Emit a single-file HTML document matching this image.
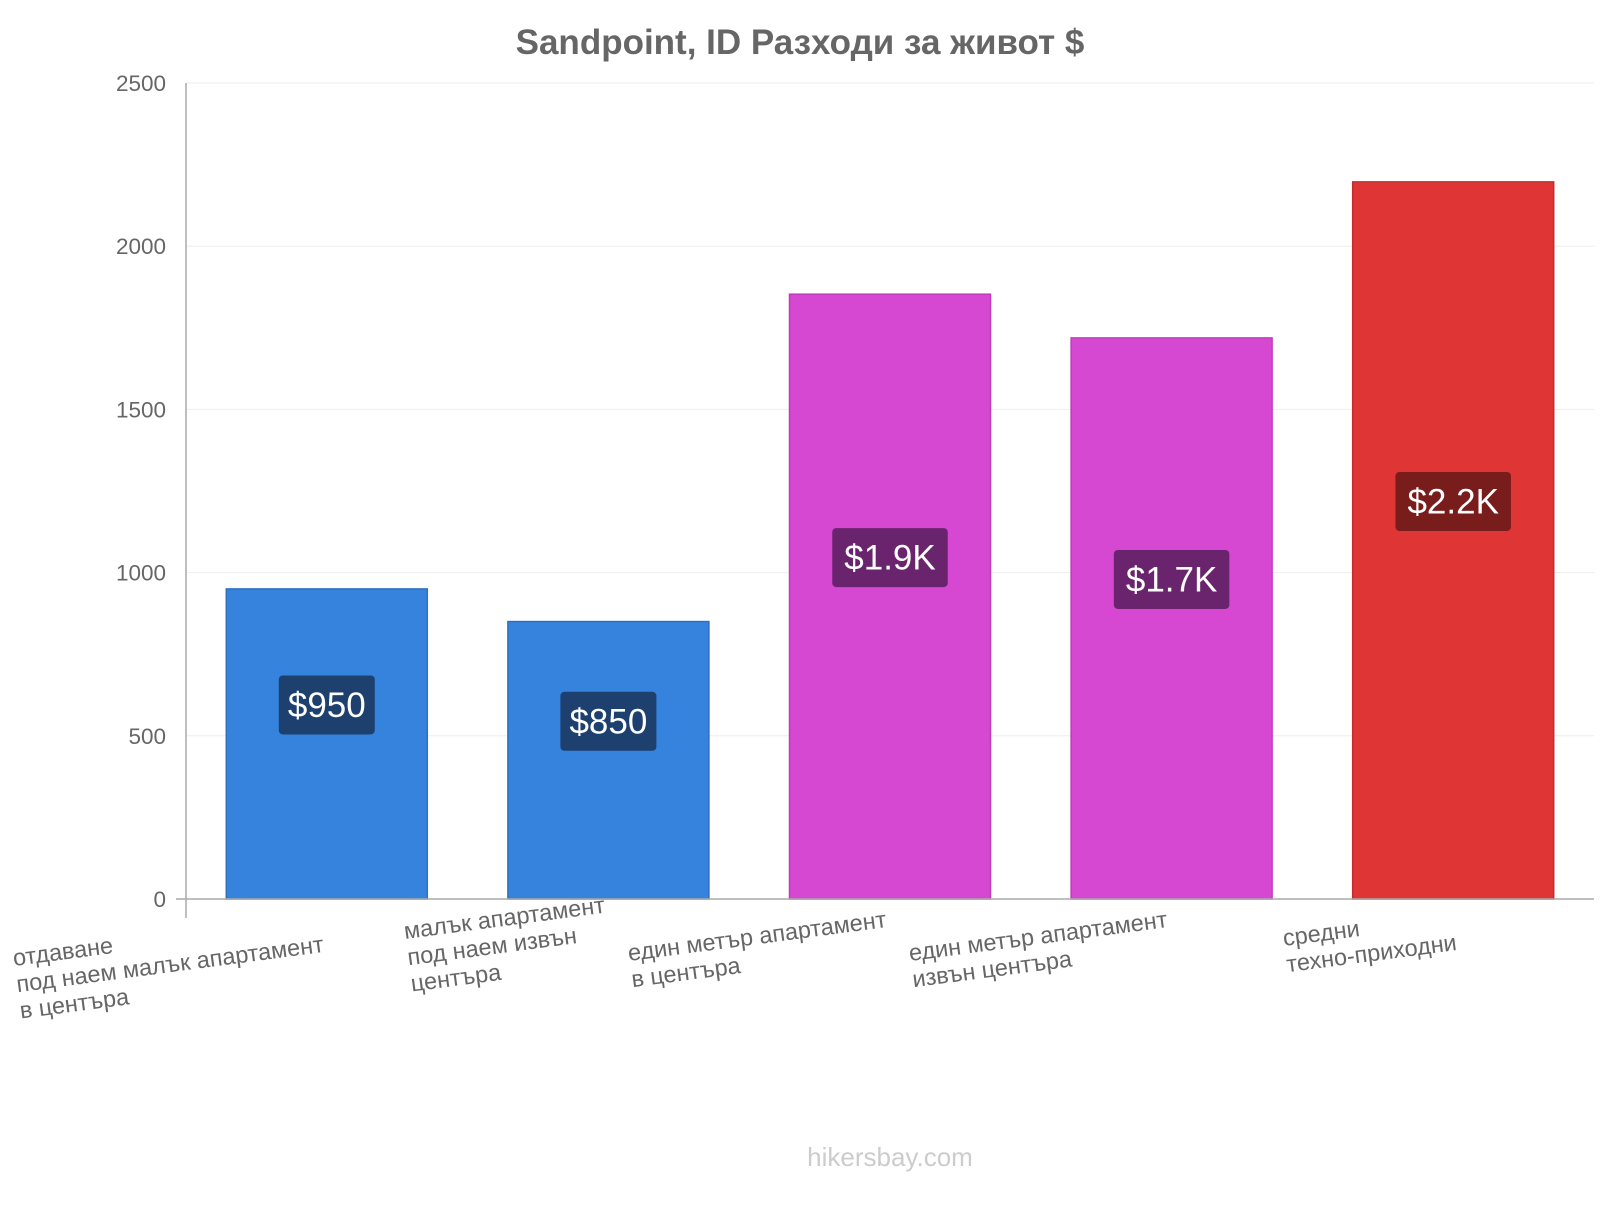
<!DOCTYPE html>
<html><head><meta charset="utf-8"><style>
body{margin:0;background:#fff;font-family:"Liberation Sans",sans-serif}
</style></head><body>
<svg id="chart" width="1600" height="1200" xmlns="http://www.w3.org/2000/svg" font-family="Liberation Sans, sans-serif">
<text x="800" y="54" text-anchor="middle" font-size="35" font-weight="bold" fill="#666">Sandpoint, ID Разходи за живот $</text>
<g id="grid"></g><g id="bars"></g><g id="xlabels"></g>
<line x1="186" y1="83" x2="186" y2="918" stroke="#aaa" stroke-width="1.5"/>
<line x1="176" y1="899" x2="1594" y2="899" stroke="#aaa" stroke-width="1.5"/>
<text x="890" y="1166" text-anchor="middle" font-size="26" fill="#ccc">hikersbay.com</text>
</svg>
<script>
const categories=[["отдаване","под наем малък апартамент","в центъра"],["малък апартамент","под наем извън","центъра"],["един метър апартамент","в центъра"],["един метър апартамент","извън центъра"],["средни","техно-приходни"]];
const values=[950,850,1853,1719,2197];
const valueLabels=["$950","$850","$1.9K","$1.7K","$2.2K"];
const yTicks=[0,500,1000,1500,2000,2500];
const fills=["#3683de","#3683de","#d647d2","#d647d2","#e03535"];
const strokes=["#2e6fc2","#2e6fc2","#c03cbc","#c03cbc","#c42c2c"];
const boxes=["#1d406e","#1d406e","#6a246e","#6a246e","#791c1c"];
const labelPos=[[14,966],[405,939],[629,961],[910,961],[1284,946]];
const NS="http://www.w3.org/2000/svg";
const y=v=>899-v*0.3264;
const x0=186,step=281.6;
function mk(t,a,p){const e=document.createElementNS(NS,t);for(const k in a)e.setAttribute(k,a[k]);p.appendChild(e);return e;}
const grid=document.getElementById('grid');
yTicks.forEach(t=>{
 const l=mk('line',{x1:186,x2:1594,y1:y(t),y2:y(t),stroke:'#eee'},grid);
 
 
 const tx=mk('text',{x:166,y:y(t)+8,'text-anchor':'end','font-size':22.5,fill:'#666'},grid);
 
 
 tx.textContent=t;
});
const bars=document.getElementById('bars');
values.forEach((v,i)=>{
 const cx=x0+step*(i+0.5);
 const r=mk('rect',{x:cx-100.5,y:y(v),width:201,height:899-y(v),fill:fills[i],stroke:strokes[i],'stroke-width':1.5},bars);
 
 
 const ly=(y(v)+899)/2-39;
 const w=valueLabels[i].length*19.5+18;
 const b=mk('rect',{x:cx-w/2,y:ly-29.5,width:w,height:59,rx:4,fill:boxes[i]},bars);
 
 
 const t=mk('text',{x:cx,y:ly+12,'text-anchor':'middle','font-size':35,fill:'#fff'},bars);
 
 
 t.textContent=valueLabels[i];
});
const xl=document.getElementById('xlabels');
categories.forEach((lines,i)=>{
 const [px,py]=labelPos[i];
 const g=mk('g',{transform:`rotate(-7.5 ${px} ${py})`},xl);
 
 
 lines.forEach((s,j)=>{
  const t=mk('text',{x:px,y:py+j*26.5,'font-size':23.5,fill:'#666'},g);
  
  
  t.textContent=s;
 });
});
</script>
</body></html>
